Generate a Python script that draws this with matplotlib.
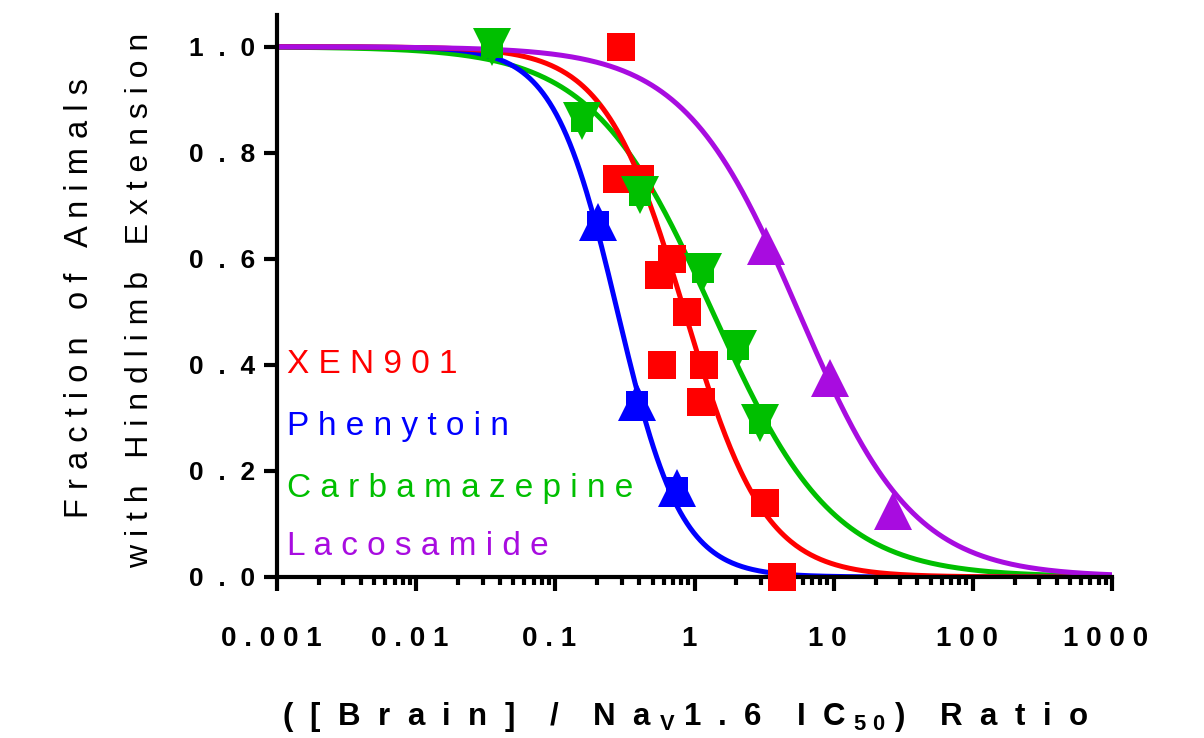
import numpy as np
import matplotlib.pyplot as plt
import matplotlib.transforms as mtransforms

plt.rcParams['font.family'] = ['Liberation Sans', 'DejaVu Sans']
plt.rcParams['mathtext.fontset'] = 'custom'
plt.rcParams['mathtext.rm'] = 'Liberation Sans:bold'
plt.rcParams['mathtext.bf'] = 'Liberation Sans:bold'

# data
xen_x = [0.296, 0.277, 0.405, 0.69, 0.555, 0.88, 0.58, 1.17, 1.11, 3.2, 4.25]
xen_y = [1.0, 0.75, 0.75, 0.6, 0.57, 0.5, 0.4, 0.4, 0.33, 0.14, 0.0]
phen_x = [0.202, 0.385, 0.75]
phen_y = [0.67, 0.33, 0.167]
carb_x = [0.035, 0.155, 0.405, 1.15, 2.05, 2.95]
carb_y = [1.0, 0.86, 0.72, 0.575, 0.43, 0.29]
laco_x = [3.26, 9.4, 26.6]
laco_y = [0.625, 0.375, 0.125]

# fitted curves: IC50 and hill slope
ic50 = {'xen': 0.85, 'phen': 0.28, 'carb': 1.35, 'laco': 5.6}
hill = {'xen': 1.5, 'phen': 1.9, 'carb': 1.0, 'laco': 1.05}

names = ['XEN901', 'Phenytoin', 'Carbamazepine', 'Lacosamide']
red = '#ff0000'
blue = '#0000ff'
green = '#00bf00'
purple = '#a80ce0'

xticks = [0.001, 0.01, 0.1, 1, 10, 100, 1000]
xticklabels = ['0.001', '0.01', '0.1', '1', '10', '100', '1000']
yticks = [0.0, 0.2, 0.4, 0.6, 0.8, 1.0]
yticklabels = ['0.0', '0.2', '0.4', '0.6', '0.8', '1.0']


def spaced(s, n=1):
    return (' ' * n).join(list(s))


fig = plt.figure(figsize=(12.04, 7.38), dpi=100)
ax = fig.add_axes([277 / 1204, 1 - 577 / 738, 835 / 1204, 562 / 738])

xs = np.logspace(-3, 3, 500)


def curve(k):
    return 1 / (1 + (xs / ic50[k]) ** hill[k])


ax.plot(xs, curve('carb'), color=green, lw=3.6, zorder=2)
ax.plot(xs, curve('phen'), color=blue, lw=3.6, zorder=2)
ax.plot(xs, curve('xen'), color=red, lw=3.6, zorder=2)
ax.plot(xs, curve('laco'), color=purple, lw=3.6, zorder=2)

ax.plot(xen_x, xen_y, 's', color=red, ms=20, mew=0, clip_on=False, zorder=3)
ax.plot(phen_x, phen_y, '^', color=blue, ms=27, mew=0, clip_on=False, zorder=3)
ax.plot(phen_x, phen_y, 's', color=blue, ms=16, mew=0, clip_on=False, zorder=3)
ax.plot(carb_x, carb_y, 'v', color=green, ms=27, mew=0, clip_on=False, zorder=3)
ax.plot(carb_x, carb_y, 's', color=green, ms=16, mew=0, clip_on=False, zorder=3)
ax.plot(laco_x, laco_y, '^', color=purple, ms=27, mew=0, clip_on=False, zorder=3)

ax.set_xscale('log')
ax.set_xlim(0.001, 1000)
ax.set_ylim(0, 1.06)
ax.set_xticks(xticks)
ax.set_xticklabels([spaced(t) for t in xticklabels])
ax.set_yticks(yticks)
ax.set_yticklabels([spaced(t, 2) for t in yticklabels])
ax.xaxis.set_minor_locator(plt.matplotlib.ticker.LogLocator(base=10, subs=np.arange(2, 10)))
ax.xaxis.set_minor_formatter(plt.NullFormatter())

for s in ['top', 'right']:
    ax.spines[s].set_visible(False)
for s in ['left', 'bottom']:
    ax.spines[s].set_linewidth(3)

ax.tick_params(axis='y', which='major', length=9.5, width=3, pad=6,
               labelsize=19)
ax.tick_params(axis='x', which='major', length=10, width=3, pad=25,
               labelsize=20)
ax.tick_params(axis='x', which='minor', length=6, width=3)
shift = mtransforms.ScaledTranslation(-6 / 100, 0, fig.dpi_scale_trans)
for lab in ax.get_xticklabels():
    lab.set_fontweight('bold')
    lab.set_transform(lab.get_transform() + shift)
for lab in ax.get_yticklabels():
    lab.set_fontweight('bold')

# legend as coloured text
for name, col, yb in zip(names, [red, blue, green, purple], [373, 435, 497, 555]):
    fig.text(287 / 1204, 1 - yb / 738, spaced(name), color=col, fontsize=24,
             va='baseline', ha='left')

fig.text(80 / 1204, 1 - 298 / 738, 'F r a c t i o n   o f   A n i m a l s',
         rotation=90, fontsize=23.5, ha='center', va='center')
fig.text(140 / 1204, 1 - 300 / 738,
         'w i t h   H i n d l i m b   E x t e n s i o n',
         rotation=90, fontsize=23, ha='center', va='center')

fig.text(685 / 1204, 1 - 717 / 738,
         r'(  [  B  r  a  i  n  ]    /    N  a $_\mathbf{V}$ 1  .  6    I  C $_\mathbf{5\ 0}$ )    R  a  t  i  o',
         fontsize=22.5, fontweight='bold', ha='center', va='center')

fig.savefig('out.png', dpi=100)
